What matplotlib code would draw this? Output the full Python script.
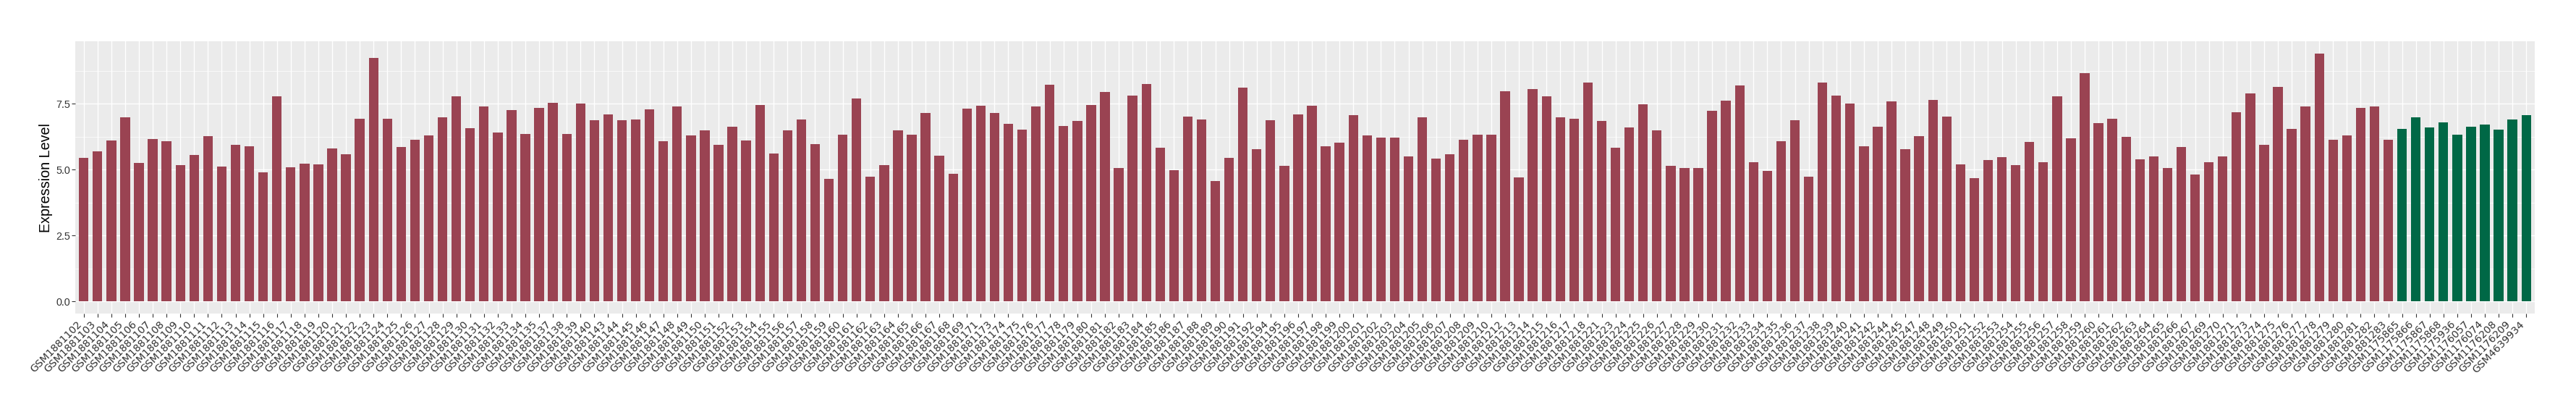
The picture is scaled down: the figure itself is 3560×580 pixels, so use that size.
import matplotlib
matplotlib.use("Agg")
import matplotlib.pyplot as plt
from matplotlib.ticker import MultipleLocator

# ---------------- data ----------------
red_ids = [102, 103, 104, 105, 106, 107, 108, 109, 110, 111, 112, 113, 114, 115, 116, 117, 118, 119,
           120, 121, 122, 123, 124, 125, 126, 127, 128, 129, 130, 131, 132, 133, 134, 135, 137, 138,
           139, 140, 143, 144, 145, 146, 147, 148, 149, 150, 151, 152, 153, 154, 155, 156, 157, 158,
           159, 160, 161, 162, 163, 164, 165, 166, 167, 168, 169, 171, 173, 174, 175, 176, 177, 178,
           179, 180, 181, 182, 183, 184, 185, 186, 187, 188, 189, 190, 191, 192, 194, 195, 196, 197,
           198, 199, 200, 201, 202, 203, 204, 205, 206, 207, 208, 209, 210, 212, 213, 214, 215, 216,
           217, 218, 221, 223, 224, 225, 226, 227, 228, 229, 230, 231, 232, 233, 234, 235, 236, 237,
           238, 239, 240, 241, 242, 244, 245, 247, 248, 249, 250, 251, 252, 253, 254, 255, 256, 257,
           258, 259, 260, 261, 262, 263, 264, 265, 266, 267, 269, 270, 271, 273, 274, 275, 276, 277,
           278, 279, 280, 281, 282, 283]
red_labels = ["GSM1881" + str(i) for i in red_ids]
red_values = [5.45, 5.69, 6.11, 6.98, 5.25, 6.16, 6.08, 5.17, 5.55, 6.27, 5.11, 5.93, 5.88, 4.90,
              7.77, 5.09, 5.22, 5.19, 5.80, 5.58, 6.93, 9.24, 6.93, 5.85, 6.13, 6.29, 6.98, 7.77,
              6.57, 7.40, 6.40, 7.26, 6.35, 7.34, 7.53, 6.35, 7.50, 6.87, 7.09, 6.87, 6.90, 7.29,
              6.08, 7.40, 6.29, 6.48, 5.93, 6.63, 6.11, 7.45, 5.61, 6.48, 6.90, 5.97, 4.65, 6.32,
              7.69, 4.73, 5.17, 6.48, 6.32, 7.14, 5.53, 4.84, 7.31, 7.42, 7.14, 6.74, 6.51, 7.40,
              8.22, 6.66, 6.85, 7.45, 7.95, 5.06, 7.80, 8.24, 5.82, 4.98, 7.01, 6.90, 4.56, 5.45,
              8.11, 5.77, 6.87, 5.14, 7.09, 7.42, 5.88, 6.02, 7.06, 6.29, 6.21, 6.21, 5.50, 6.98,
              5.42, 5.58, 6.13, 6.32, 6.32, 7.97, 4.71, 8.05, 7.77, 6.98, 6.93, 8.30, 6.85, 5.82,
              6.60, 7.48, 6.48, 5.14, 5.06, 5.06, 7.23, 7.61, 8.19, 5.27, 4.95, 6.08, 6.87, 4.73,
              8.30, 7.80, 7.50, 5.88, 6.63, 7.59, 5.77, 6.27, 7.64, 7.01, 5.19, 4.67, 5.37, 5.47,
              5.17, 6.05, 5.27, 7.77, 6.19, 8.66, 6.76, 6.93, 6.24, 5.39, 5.50, 5.06, 5.85, 4.81,
              5.27, 5.50, 7.17, 7.89, 5.93, 8.14, 6.54, 7.40, 9.40, 6.13, 6.29, 7.34, 7.40, 6.13]

green_labels = ["GSM1175865", "GSM1175866", "GSM1175867", "GSM1175868", "GSM1175936",
                "GSM1176057", "GSM1176074", "GSM1176208", "GSM1176209", "GSM4639934"]
green_values = [6.54, 6.98, 6.60, 6.79, 6.32, 6.63, 6.71, 6.51, 6.90, 7.06]

y_ticks = [0.0, 2.5, 5.0, 7.5]
y_label = "Expression Level"

# ---------------- style ----------------
RED = "#9A4352"
GREEN = "#006846"
PANEL = "#EBEBEB"

labels = red_labels + green_labels
values = red_values + green_values
colors = [RED] * len(red_labels) + [GREEN] * len(green_labels)
n = len(labels)

fig = plt.figure(figsize=(35.6, 5.8), dpi=100)
ax = fig.add_axes([0.0293, 0.2529, 0.9839 - 0.0293, 0.9022 - 0.2529])
ax.set_facecolor(PANEL)

x = list(range(n))
ax.bar(x, values, width=0.7, color=colors, zorder=3, linewidth=0)

ax.set_xlim(-0.6, n - 1 + 0.6)
vmax = max(values)
ax.set_ylim(-0.05 * vmax, vmax * 1.05)

ax.set_yticks(y_ticks)
ax.set_yticklabels([f"{t:.1f}" for t in y_ticks], fontsize=10.4, color="#333333",
                   family="Liberation Sans")
ax.yaxis.set_minor_locator(MultipleLocator(1.25))
ax.set_xticks(x)
ax.set_xticklabels(labels, rotation=45, ha="right", va="top", fontsize=10.2,
                   color="#333333", family="DejaVu Sans")

ax.grid(which="major", color="white", linewidth=1.0, zorder=0)
ax.grid(which="minor", axis="y", color="white", linewidth=0.5, zorder=0)
ax.set_axisbelow(True)
ax.tick_params(axis="both", which="major", length=3.3, width=0.8, color="#333333", pad=2)
ax.tick_params(axis="y", which="minor", length=0)
for s in ax.spines.values():
    s.set_visible(False)

ax.set_ylabel(y_label, fontsize=14.2, family="Liberation Sans", color="black")
ax.yaxis.set_label_coords(-0.0091, 0.5)

fig.savefig("out.png", dpi=100, facecolor="white")
